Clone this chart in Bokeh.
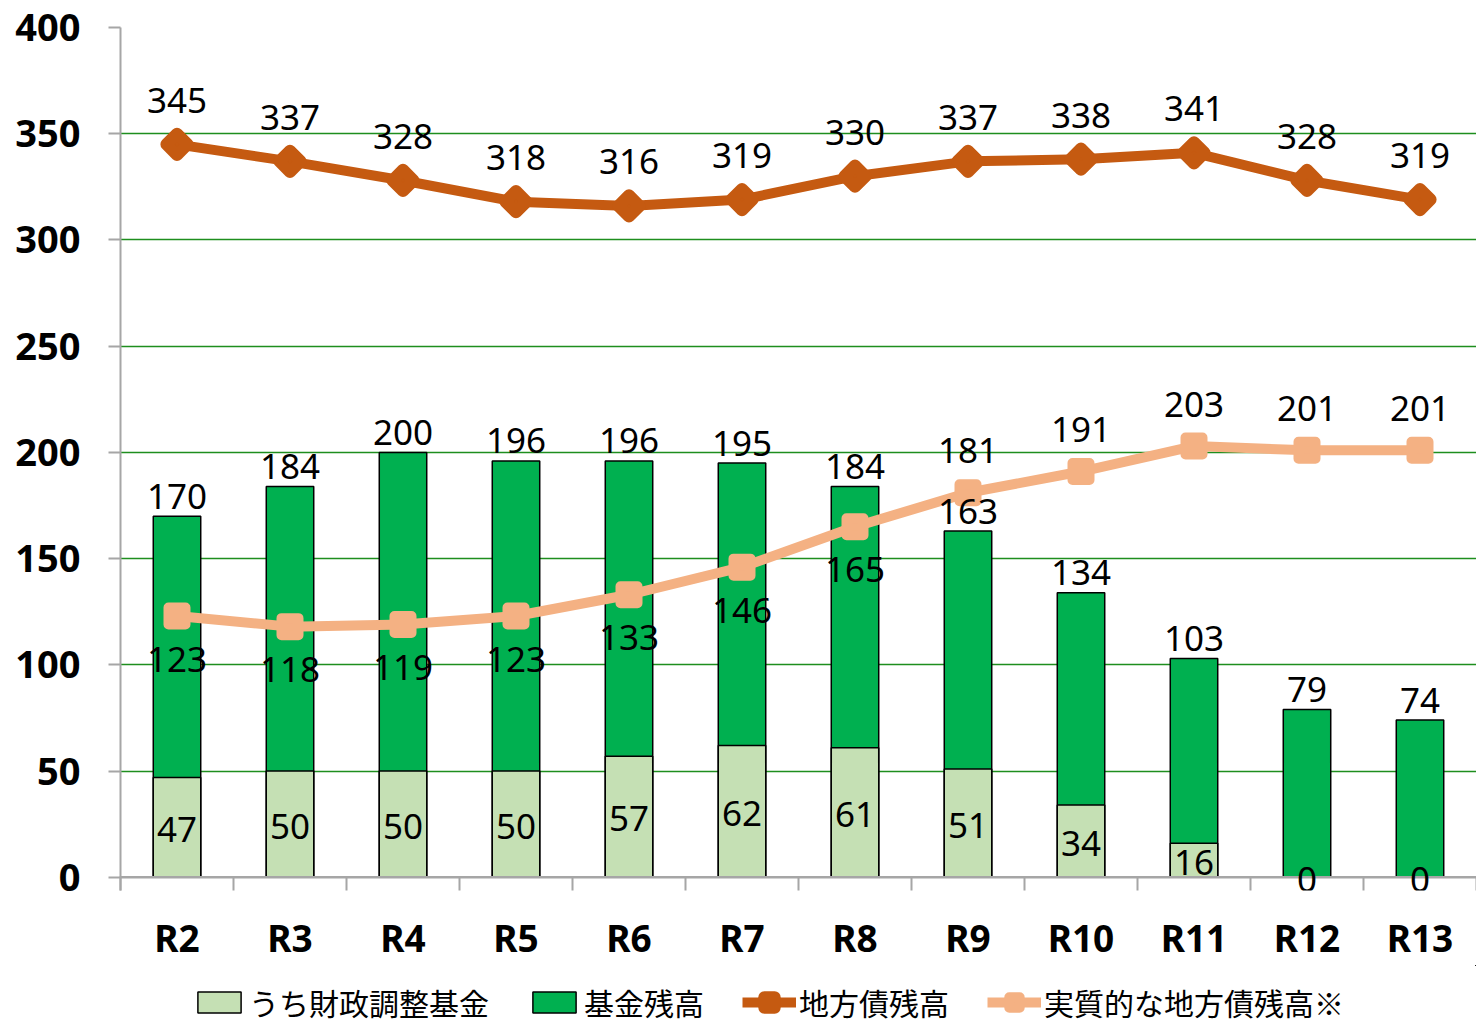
import numpy as np
from bokeh.plotting import figure
from bokeh.layouts import column
from bokeh.models import (ColumnDataSource, Range1d, FixedTicker, LabelSet, Legend, LegendItem, Span)
from bokeh.core.properties import value
from bokeh.embed import file_html
from bokeh.resources import INLINE

# ---- data ----
categories = ["R2", "R3", "R4", "R5", "R6", "R7", "R8", "R9", "R10", "R11", "R12", "R13"]
fund_balance = [170, 184, 200, 196, 196, 195, 184, 163, 134, 103, 79, 74]          # 基金残高
fiscal_adjustment_fund = [47, 50, 50, 50, 57, 62, 61, 51, 34, 16, 0, 0]              # うち財政調整基金
local_debt = [345, 337, 328, 318, 316, 319, 330, 337, 338, 341, 328, 319]          # 地方債残高
real_local_debt = [123, 118, 119, 123, 133, 146, 165, 181, 191, 203, 201, 201]     # 実質的な地方債残高※
y_ticks = [0, 50, 100, 150, 200, 250, 300, 350, 400]
series_names = ["うち財政調整基金", "基金残高", "地方債残高", "実質的な地方債残高※"]

n = len(categories)
xs = [i + 0.5 for i in range(n)]

src = ColumnDataSource(dict(
    x=xs, cat=categories, fund=fund_balance, reserve=fiscal_adjustment_fund,
    reserve_mid=[v / 2 for v in fiscal_adjustment_fund],
    debt=local_debt, real=real_local_debt,
))
above_idx = [i for i in range(n) if real_local_debt[i] > fund_balance[i]]
below_idx = [i for i in range(n) if real_local_debt[i] <= fund_balance[i]]
src_real_above = ColumnDataSource(dict(x=[xs[i] for i in above_idx], real=[real_local_debt[i] for i in above_idx]))
src_real_below = ColumnDataSource(dict(x=[xs[i] for i in below_idx], real=[real_local_debt[i] for i in below_idx]))

DARK_GREEN = "#00B050"
LIGHT_GREEN = "#C5E0B4"
ORANGE = "#C55A11"
SALMON = "#F4B183"
GRID = "#1E8E1E"
AXIS_GRAY = "#A6A6A6"

bar_fund_style = dict(fill_color=DARK_GREEN, line_color="black", line_width=1.5)
bar_res_style = dict(fill_color=LIGHT_GREEN, line_color="black", line_width=1.5)
debt_line_style = dict(line_color=ORANGE, line_width=10, line_join="round")
debt_pt_style = dict(marker="square", angle=np.pi / 4, size=15, fill_color=ORANGE,
                     line_color=ORANGE, line_width=12, line_join="round")
real_line_style = dict(line_color=SALMON, line_width=10, line_join="round")
real_pt_style = dict(marker="square", size=17, fill_color=SALMON,
                     line_color=SALMON, line_width=10, line_join="round")

PAD = 6.2
p = figure(frame_width=1356, frame_height=863, x_range=Range1d(0, n), y_range=Range1d(-PAD, 400),
           output_backend="svg", toolbar_location=None,
           min_border_left=120, min_border_right=0, min_border_top=27, min_border_bottom=71,
           outline_line_color=None, background_fill_color="white", border_fill_color="white")

xa = p.xaxis[0]
xa.ticker = FixedTicker(ticks=xs, minor_ticks=list(range(n + 1)))
xa.major_label_overrides = {x: c for x, c in zip(xs, categories)}
xa.major_tick_out = 0
xa.major_tick_in = 0
xa.minor_tick_out = 0
xa.minor_tick_in = 14
xa.minor_tick_line_color = AXIS_GRAY
xa.minor_tick_line_width = 2
xa.axis_line_color = None
xa.major_label_text_font = "Noto Sans"
xa.major_label_text_font_style = "bold"
xa.major_label_text_font_size = "37px"
xa.major_label_text_color = "black"
xa.major_label_standoff = 21

ya = p.yaxis[0]
ya.ticker = FixedTicker(ticks=y_ticks, minor_ticks=[])
ya.major_tick_out = 12
ya.major_tick_in = 0
ya.major_tick_line_color = AXIS_GRAY
ya.major_tick_line_width = 2
ya.axis_line_color = AXIS_GRAY
ya.axis_line_width = 2
ya.major_label_text_font = "Noto Sans"
ya.major_label_text_font_style = "bold"
ya.major_label_text_font_size = "38px"
ya.major_label_text_color = "black"
ya.major_label_standoff = 28

p.xgrid.visible = False
p.ygrid.ticker = FixedTicker(ticks=y_ticks[1:])
p.ygrid.grid_line_color = GRID
p.ygrid.grid_line_width = 1.5

p.vbar(x="x", top="fund", bottom=0, width=0.42, source=src, **bar_fund_style)
p.vbar(x="x", top="reserve", bottom=0, width=0.42, source=src, **bar_res_style)

p.add_layout(Span(location=0, dimension="width", line_color=AXIS_GRAY, line_width=2.5))

p.line(x="x", y="debt", source=src, **debt_line_style)
p.scatter(x="x", y="debt", source=src, **debt_pt_style)
p.line(x="x", y="real", source=src, **real_line_style)
p.scatter(x="x", y="real", source=src, **real_pt_style)

lab_kw = dict(text_font=value("Noto Sans"), text_font_size="35px", text_color="black",
              text_align="center", text_baseline="middle")
p.add_layout(LabelSet(x="x", y="fund", text="fund", source=src, y_offset=20, **lab_kw))
p.add_layout(LabelSet(x="x", y="reserve_mid", text="reserve", source=src, y_offset=-2, **lab_kw))
p.add_layout(LabelSet(x="x", y="debt", text="debt", source=src, y_offset=44, **lab_kw))
p.add_layout(LabelSet(x="x", y="real", text="real", source=src_real_above, y_offset=42, **lab_kw))
p.add_layout(LabelSet(x="x", y="real", text="real", source=src_real_below, y_offset=-43, **lab_kw))

# ---- legend strip (separate figure below the chart; its frame aligns with the chart's) ----
# the strip's ranges sit away from the data, so its renderers only serve as legend swatches
lg = figure(width=1476, height=64, x_range=Range1d(-3, -2), y_range=Range1d(-3, -2),
            output_backend="svg", toolbar_location=None, min_border=0,
            outline_line_color=None, background_fill_color="white", border_fill_color="white")
lg.axis.visible = False
lg.grid.visible = False
l_res = lg.vbar(x="x", top="reserve", width=0.42, source=src, **bar_res_style)
l_fund = lg.vbar(x="x", top="fund", width=0.42, source=src, **bar_fund_style)
l_dl = lg.line(x="x", y="debt", source=src, **debt_line_style)
l_dp = lg.scatter(x="x", y="debt", source=src, **debt_pt_style)
l_rl = lg.line(x="x", y="real", source=src, **real_line_style)
l_rp = lg.scatter(x="x", y="real", source=src, **real_pt_style)

legend = Legend(items=[
    LegendItem(label=series_names[0], renderers=[l_res]),
    LegendItem(label=series_names[1], renderers=[l_fund]),
    LegendItem(label=series_names[2], renderers=[l_dl, l_dp]),
    LegendItem(label=series_names[3], renderers=[l_rl, l_rp]),
], orientation="horizontal", location=(72, 5), glyph_width=54, glyph_height=26,
    label_standoff=3, spacing=38, padding=0, margin=0,
    border_line_color=None, background_fill_alpha=0,
    label_text_font="Noto Sans CJK JP", label_text_font_size="30px", label_text_color="black")
lg.add_layout(legend)

layout = column(p, lg, spacing=0)
open("out.html", "w").write(file_html(layout, INLINE))
